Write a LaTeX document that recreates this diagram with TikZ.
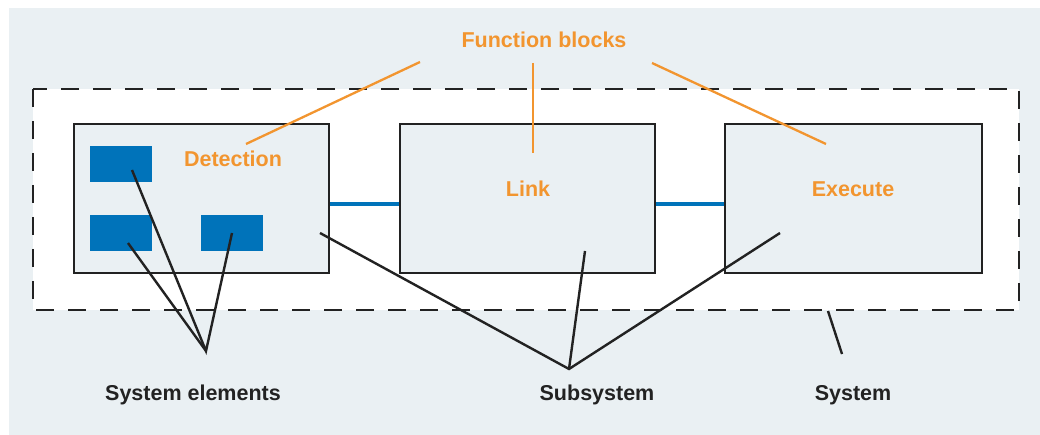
\documentclass[tikz,border=0pt]{standalone}
\usepackage{fontspec}
\setmainfont{Liberation Sans}
\definecolor{bggray}{HTML}{EAF0F3}
\definecolor{fborange}{HTML}{F2952F}
\definecolor{elblue}{HTML}{0073BA}
\definecolor{inkdark}{HTML}{222222}
\tikzset{
  fbbox/.style={draw=inkdark, line width=2.5pt, fill=bggray, inner sep=0pt},
  elem/.style={fill=elblue, draw=none, inner sep=0pt, minimum width=62pt, minimum height=36pt},
  fblabel/.style={text=fborange, font=\fontsize{21.5pt}{24pt}\selectfont\bfseries, inner sep=0pt, anchor=base},
  blabel/.style={text=inkdark, font=\fontsize{21.5pt}{24pt}\selectfont\bfseries, inner sep=0pt, anchor=base},
  oline/.style={draw=fborange, line width=2.3pt},
  kline/.style={draw=inkdark, line width=2.4pt},
  bline/.style={draw=elblue, line width=4.5pt},
  sysframe/.style={draw=inkdark, fill=white, line width=2.8pt, dash pattern=on 18pt off 14pt},
}
\begin{document}
\begin{tikzpicture}[x=1pt,y=-1pt]
\useasboundingbox (0,0) rectangle (1040,435);
\fill[bggray] (9,8) rectangle (1040,435);
% system frame
\draw[sysframe] (33,89) rectangle (1019,310);
% subsystems
\node[fbbox, minimum width=255pt, minimum height=149pt] (det) at (201.5,198.5) {};
\node[fbbox, minimum width=255pt, minimum height=149pt] (lnk) at (527.5,198.5) {};
\node[fbbox, minimum width=257pt, minimum height=149pt] (exe) at (853.5,198.5) {};
% links
\draw[bline] (det.east |- 0,204) -- (lnk.west |- 0,204);
\draw[bline] (lnk.east |- 0,204) -- (exe.west |- 0,204);
% elements
\node[elem] (e1) at (121,164) {};
\node[elem] (e2) at (121,233) {};
\node[elem] (e3) at (232,233) {};
% labels
\node[fblabel] (fb) at (544,48) {Function blocks};
\node[fblabel] (tdet) at (233,167) {Detection};
\node[fblabel] (tlnk) at (528,197) {Link};
\node[fblabel] (texe) at (853,197) {Execute};
\node[blabel] (lse) at (193,400) {System elements};
\node[blabel] (lss) at (597,400) {Subsystem};
\node[blabel] (lsy) at (853,400) {System};
% orange leaders
\coordinate (fbl) at (420,62);
\coordinate (fbm) at (533,63);
\coordinate (fbr) at (652,63);
\coordinate (pdet) at (246,144);
\coordinate (plnk) at (533,153);
\coordinate (pexe) at (826,144);
\draw[oline] (fbl) -- (pdet);
\draw[oline] (fbm) -- (plnk);
\draw[oline] (fbr) -- (pexe);
% black leaders
\coordinate (ase) at (206,351);
\coordinate (p1) at (132,170);
\coordinate (p2) at (128,243);
\coordinate (p3) at (232,233);
\draw[kline] (p1) -- (ase) -- (p3);
\draw[kline] (p2) -- (ase);
\coordinate (ass) at (569,369);
\coordinate (q1) at (320,233);
\coordinate (q2) at (585,251);
\coordinate (q3) at (780,233);
\draw[kline] (q1) -- (ass) -- (q3);
\draw[kline] (q2) -- (ass);
\coordinate (sy1) at (828,311);
\coordinate (sy2) at (842,354);
\draw[kline] (sy1) -- (sy2);
\end{tikzpicture}
\end{document}
